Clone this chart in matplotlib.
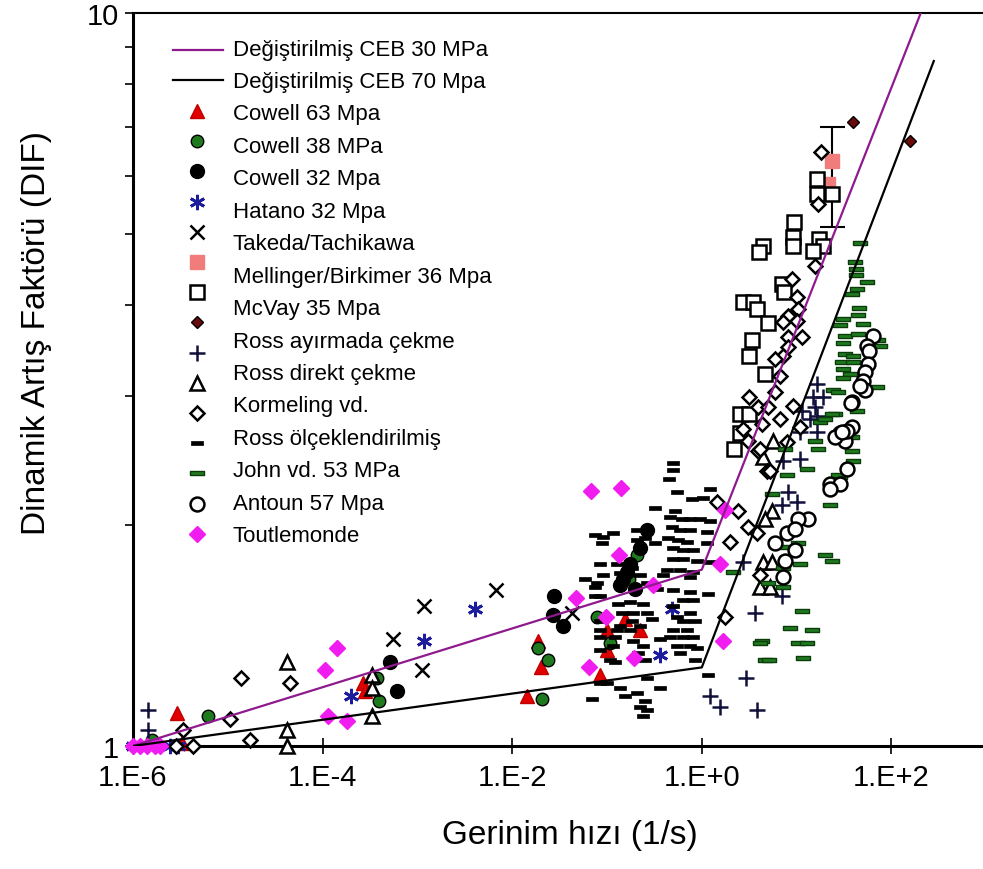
import numpy as np
import matplotlib
matplotlib.use('Agg')
import matplotlib.pyplot as plt
from matplotlib.ticker import FixedLocator, NullLocator, NullFormatter

plt.rcParams['font.family'] = ['Liberation Sans', 'DejaVu Sans']

# modified CEB curves (break points)
ceb30_rate = [1e-6, 1.0, 204.0]
ceb30_dif = [1.0, 1.74, 10.0]
ceb70_rate = [1e-6, 1.0, 280.0]
ceb70_dif = [1.0, 1.28, 8.6]

# test data: log10 of strain rate (1/s) and DIF
cowell63_lograte = [-5.54, -5.48, -3.57, -3.55, -1.84, -1.73, -1.70, -0.81, -1.00, -1.07, -0.65, -1.00]
cowell63_dif = [1.11, 1.01, 1.22, 1.19, 1.17, 1.39, 1.28, 1.49, 1.35, 1.25, 1.44, 1.44]

cowell38_lograte = [-5.21, -5.80, -3.43, -3.41, -1.73, -1.62, -1.69, -1.11, -0.68, -0.77, -0.97]
cowell38_dif = [1.10, 1.02, 1.24, 1.15, 1.36, 1.31, 1.16, 1.50, 1.82, 1.69, 1.38]

cowell32_lograte = [-3.29, -3.22, -1.56, -1.57, -1.46, -0.79, -0.83, -0.58, -0.76, -0.86, -0.65, -0.70]
cowell32_dif = [1.30, 1.19, 1.60, 1.51, 1.46, 1.73, 1.69, 1.97, 1.77, 1.66, 1.86, 1.64]

hatano_lograte = [-6.0, -5.61, -5.53, -3.70, -2.93, -2.39, -0.31, -0.44]
hatano_dif = [1.0, 1.0, 1.0, 1.17, 1.39, 1.54, 1.54, 1.33]

takeda_lograte = [-2.17, -2.93, -3.26, -2.95, -1.37]
takeda_dif = [1.63, 1.55, 1.40, 1.27, 1.52]

mellinger_lograte = [1.37, 1.33]
mellinger_dif = [6.28, 5.85]
mellinger_err_low = [5.1]
mellinger_err_high = [7.0]

mcvay_sq_lograte = [1.22, 1.22, 1.37, 0.97, 0.96, 0.96, 1.24, 1.28, 1.17, 0.65, 0.60, 0.85,
                    0.87, 0.43, 0.54, 0.58, 0.70, 0.53, 0.50, 0.67, 0.40, 0.50, 0.40, 0.34]
mcvay_sq_dif = [5.94, 5.66, 5.66, 5.19, 4.95, 4.81, 4.92, 4.81, 4.74, 4.81, 4.72, 4.27,
                4.16, 4.03, 4.04, 3.95, 3.78, 3.58, 3.40, 3.22, 2.84, 2.84, 2.67, 2.54]

mcvay_lograte = [1.59, 2.20]
mcvay_dif = [7.10, 6.69]

ross_split_lograte = [-5.84, -5.84, 0.43, 0.56, 0.47, 0.09, 0.19, 0.58, 0.86, 1.04, 0.91, 1.00,
                      0.85, 0.85, 1.06, 1.22, 1.22, 1.17, 1.28, 1.19, 1.14, 1.04, 1.22]
ross_split_dif = [1.12, 1.05, 1.78, 1.52, 1.24, 1.17, 1.13, 1.12, 2.45, 2.46, 2.22, 2.15,
                  2.13, 1.60, 2.86, 2.82, 3.12, 2.99, 2.99, 2.90, 2.79, 2.68, 2.68]

ross_direct_lograte = [-4.38, -4.38, -4.38, -3.48, -3.48, -3.48, 0.75, 0.65, 0.74, 0.67, 0.65, 0.74, 0.61, 0.72]
ross_direct_dif = [1.30, 1.05, 1.0, 1.25, 1.20, 1.10, 2.61, 2.48, 2.09, 2.04, 1.78, 1.78, 1.65, 1.65]

kormeling_lograte = [-4.86, -4.98, -5.47, -4.77, -4.34, -5.37, -5.55,
                     0.16, 0.38, 0.49, 0.30, 0.58, 0.24, 0.69, 0.59,
                     1.26, 1.23, 1.19, 0.95, 1.00, 1.01, 0.91, 1.00, 0.86, 1.06,
                     0.91, 0.91, 0.86, 0.77, 0.82, 0.77, 0.50, 0.59, 0.70, 0.96,
                     0.82, 0.64, 0.43, 0.49, 0.61, 0.90, 1.04, 0.72, 0.61]
kormeling_dif = [1.24, 1.09, 1.05, 1.02, 1.22, 1.0, 1.0,
                 2.15, 2.09, 1.99, 1.90, 1.95, 1.50, 2.37, 2.53,
                 6.46, 5.49, 4.52, 4.34, 4.10, 3.95, 3.86, 3.80, 3.79, 3.61,
                 3.61, 3.50, 3.40, 3.37, 3.20, 3.04, 2.99, 2.90, 2.90, 2.91,
                 2.79, 2.75, 2.71, 2.61, 2.54, 2.60, 2.72, 2.37, 1.71]

ross_scaled_lograte = [-1.13, -1.04, -0.94, -1.05, -0.68, -0.68, -0.60, -1.07, -1.04, -1.23,
                       -1.11, -1.13, -0.89, -0.86, -0.74, -0.65, -0.58, -1.13, -1.07, -0.88,
                       -0.76, -0.62, -0.84, -0.73, -0.58, -1.07, -0.86, -0.74, -1.07, -0.89,
                       -0.76, -0.65, -1.07, -0.92, -1.07, -0.94, -0.73, -0.62, -0.97, -0.92,
                       -0.60, -0.67, -1.07, -1.00, -0.86, -0.81, -0.68, -1.16, -0.65, -0.62,
                       -0.30, -0.30, -0.35, -0.26, -0.10, 0.01, 0.09, -0.28, -0.34, -0.21,
                       -0.12, -0.02, 0.09, -0.31, -0.23, -0.12, 0.05, -0.36, -0.25, -0.16,
                       0.05, -0.30, -0.20, -0.09, -0.30, -0.20, -0.05, 0.09, -0.37, -0.23,
                       -0.09, -0.41, -0.12, 0.07, -0.30, -0.12, -0.20, -0.09, -0.30, -0.12,
                       -0.26, -0.20, -0.07, -0.30, -0.16, -0.34, -0.20, -0.09, -0.26, -0.12,
                       -0.23, -0.05, -0.07, 0.07, -0.58, -0.60, -0.58,
                       -0.49, -0.47, -0.53, -0.44, -0.49, -0.44]
ross_scaled_dif = [1.94, 1.93, 1.95, 1.89, 1.97, 1.91, 1.92, 1.77, 1.71, 1.69,
                   1.67, 1.65, 1.77, 1.72, 1.75, 1.71, 1.67, 1.60, 1.60, 1.56,
                   1.57, 1.56, 1.52, 1.52, 1.52, 1.48, 1.46, 1.48, 1.44, 1.44,
                   1.44, 1.46, 1.41, 1.41, 1.35, 1.37, 1.39, 1.37, 1.31, 1.30,
                   1.31, 1.34, 1.22, 1.22, 1.20, 1.17, 1.18, 1.16, 1.13, 1.10,
                   2.43, 2.38, 2.31, 2.22, 2.17, 2.18, 2.24, 2.09, 2.05, 2.04,
                   2.04, 2.04, 2.03, 1.99, 1.97, 1.97, 1.96, 1.92, 1.91, 1.90,
                   1.89, 1.86, 1.85, 1.85, 1.80, 1.80, 1.79, 1.78, 1.74, 1.74,
                   1.73, 1.71, 1.70, 1.61, 1.63, 1.62, 1.58, 1.58, 1.55, 1.52,
                   1.50, 1.48, 1.48, 1.44, 1.44, 1.41, 1.41, 1.41, 1.37, 1.37,
                   1.34, 1.36, 1.31, 1.25, 1.24, 1.15, 1.12,
                   1.89, 1.64, 1.49, 1.40, 2.11, 1.20]

john_lograte = [0.33, 0.64, 0.67,
                1.41, 1.25, 1.19, 1.23, 0.88, 0.90, 1.11, 0.74, 1.35, 1.58,
                1.59, 1.46, 1.01, 0.90, 1.04, 0.86, 0.70, 0.86, 1.30, 1.37,
                1.06, 0.93, 1.16, 0.61, 1.01, 1.11, 1.07, 0.71,
                1.67, 1.62, 1.63, 1.63, 1.74, 1.64, 1.58, 1.66, 1.65, 1.49,
                1.46, 1.70, 1.51, 1.49, 1.65, 1.86, 1.88, 1.51, 1.59, 1.48,
                1.59, 1.49, 1.56, 1.49, 1.85, 1.38, 1.44, 1.64, 1.37, 1.30, 1.58, 1.44]
john_dif = [1.73, 1.39, 1.31,
            2.84, 2.77, 2.61, 2.54, 2.54, 2.34, 2.39, 2.21, 2.13, 2.53,
            2.45, 2.33, 1.89, 1.87, 1.77, 1.75, 1.67, 1.65, 1.82, 1.79,
            1.53, 1.45, 1.44, 1.38, 1.38, 1.38, 1.32, 1.31,
            4.86, 4.57, 4.48, 4.39, 4.30, 4.20, 4.14, 3.96, 3.87, 3.82,
            3.75, 3.76, 3.63, 3.55, 3.65, 3.58, 3.51, 3.43, 3.40, 3.34,
            3.34, 3.27, 3.22, 3.18, 3.09, 3.06, 3.04, 2.86, 2.84, 2.79, 2.64, 2.34]

antoun_lograte = [1.58, 1.46, 1.51, 1.58, 1.41, 1.53, 1.53, 1.35, 1.46, 1.12, 1.01, 0.90, 0.98, 0.77,
                  0.98, 0.86, 0.88, 1.81, 1.74, 1.76, 1.75, 1.72, 1.70, 1.72, 1.67, 1.57, 1.48, 1.35]
antoun_dif = [2.95, 2.67, 2.61, 2.72, 2.64, 2.69, 2.39, 2.28, 2.28, 2.04, 2.04, 1.95, 1.98, 1.89,
              1.85, 1.70, 1.79, 3.63, 3.51, 3.46, 3.32, 3.24, 3.15, 3.06, 3.10, 2.94, 2.68, 2.24]

toutlemonde_lograte = [-6.0, -5.93, -5.85, -5.77, -5.72, -3.85, -3.97, -3.94, -3.74, -1.17,
                       -0.85, -0.87, -1.33, -1.01, -0.72, -1.19, -0.51, 0.24, 0.19, 0.22]
toutlemonde_dif = [1.0, 1.0, 1.0, 1.0, 1.0, 1.36, 1.27, 1.10, 1.08, 2.23,
                   2.25, 1.82, 1.59, 1.50, 1.32, 1.28, 1.66, 2.10, 1.77, 1.39]

line_labels = ['Değiştirilmiş CEB 30 MPa', 'Değiştirilmiş CEB 70 Mpa']
series_labels = ['Cowell 63 Mpa', 'Cowell 38 MPa', 'Cowell 32 Mpa', 'Hatano 32 Mpa',
                 'Takeda/Tachikawa', 'Mellinger/Birkimer 36 Mpa', 'McVay 35 Mpa',
                 'Ross ayırmada çekme', 'Ross direkt çekme', 'Kormeling vd.',
                 'Ross ölçeklendirilmiş', 'John vd. 53 MPa', 'Antoun 57 Mpa', 'Toutlemonde']

# small filled bar used for the "scaled" / John markers
dash = [(-1, -0.42), (1, -0.42), (1, 0.42), (-1, 0.42), (-1, -0.42)]
dash_thin = [(-1, -0.34), (1, -0.34), (1, 0.34), (-1, 0.34), (-1, -0.34)]

styles = {
    'cowell63': dict(marker='^', ms=10, mfc='#e00000', mec='#c00000', mew=1),
    'cowell38': dict(marker='o', ms=9, mfc='#1f7a1f', mec='black', mew=1),
    'cowell32': dict(marker='o', ms=10, mfc='black', mec='black', mew=1),
    'hatano': dict(marker=(6, 2, 0), ms=11, mfc='none', mec='#1c1c9c', mew=2),
    'takeda': dict(marker='x', ms=10, mfc='none', mec='black', mew=1.8),
    'mellinger': dict(marker='s', ms=10, mfc='#f07c7c', mec='#f07c7c', mew=1),
    'mcvay_sq': dict(marker='s', ms=10, mfc='white', mec='black', mew=1.8),
    'mcvay': dict(marker='D', ms=6.5, mfc='#6b0a0a', mec='black', mew=1),
    'ross_split': dict(marker='+', ms=11, mfc='none', mec='#10103a', mew=1.8),
    'ross_direct': dict(marker='^', ms=10, mfc='white', mec='black', mew=1.8),
    'kormeling': dict(marker='D', ms=6.8, mfc='white', mec='black', mew=1.8),
    'ross_scaled': dict(marker=dash, ms=8, mfc='black', mec='black', mew=0.5),
    'john': dict(marker=dash_thin, ms=10.5, mfc='#1f7a1f', mec='#0b3d0b', mew=1),
    'antoun': dict(marker='o', ms=10, mfc='white', mec='black', mew=1.8),
    'toutlemonde': dict(marker='D', ms=8, mfc='#f01cf0', mec='#f01cf0', mew=1),
}

series = [
    ('cowell63', cowell63_lograte, cowell63_dif),
    ('cowell38', cowell38_lograte, cowell38_dif),
    ('cowell32', cowell32_lograte, cowell32_dif),
    ('hatano', hatano_lograte, hatano_dif),
    ('takeda', takeda_lograte, takeda_dif),
    ('mellinger', mellinger_lograte, mellinger_dif),
    ('mcvay_sq', mcvay_sq_lograte, mcvay_sq_dif),
    ('mcvay', mcvay_lograte, mcvay_dif),
    ('ross_split', ross_split_lograte, ross_split_dif),
    ('ross_direct', ross_direct_lograte, ross_direct_dif),
    ('kormeling', kormeling_lograte, kormeling_dif),
    ('ross_scaled', ross_scaled_lograte, ross_scaled_dif),
    ('john', john_lograte, john_dif),
    ('antoun', antoun_lograte, antoun_dif),
    ('toutlemonde', toutlemonde_lograte, toutlemonde_dif),
]

fig = plt.figure(figsize=(9.83, 8.70), dpi=100)
ax = fig.add_axes([0.1353, 0.1414, 0.8647, 0.8425])
ax.set_xscale('log')
ax.set_yscale('log')

for key, lr, dif in series:
    ax.plot(10.0 ** np.array(lr), dif, linestyle='none', clip_on=False, zorder=3, **styles[key])

# error bar on the Mellinger/Birkimer point
mx = 10.0 ** mellinger_lograte[0]
my = mellinger_dif[0]
ax.errorbar([mx], [my], yerr=[[my - mellinger_err_low[0]], [mellinger_err_high[0] - my]],
            fmt='none', ecolor='black', elinewidth=1.5, capsize=9, capthick=1.5, zorder=2)

ax.plot(ceb30_rate, ceb30_dif, color='#8e1a8e', lw=1.6, zorder=4)
ax.plot(ceb70_rate, ceb70_dif, color='black', lw=1.6, zorder=4)

ax.set_xlim(1e-6, 925)
ax.set_ylim(1, 10)

ax.xaxis.set_major_locator(FixedLocator([1e-6, 1e-4, 1e-2, 1.0, 1e2]))
ax.xaxis.set_minor_locator(NullLocator())
ax.set_xticklabels(['1.E-6', '1.E-4', '1.E-2', '1.E+0', '1.E+2'])
ax.yaxis.set_major_locator(FixedLocator([1, 10]))
ax.set_yticklabels(['1', '10'])
ax.yaxis.set_minor_locator(FixedLocator([2, 3, 4, 5, 6, 7, 8, 9]))
ax.yaxis.set_minor_formatter(NullFormatter())
ax.tick_params(axis='x', which='major', direction='inout', length=12, width=1.2, pad=6, labelsize=21)
ax.tick_params(axis='y', which='major', direction='out', length=6, width=1.2, pad=4, labelsize=21)
ax.tick_params(axis='y', which='minor', direction='out', length=6, width=1.2)

ax.spines['right'].set_visible(False)
ax.spines['top'].set_linewidth(1.5)
ax.spines['left'].set_linewidth(2.2)
ax.spines['bottom'].set_linewidth(2.2)

ax.set_xlabel('Gerinim hızı (1/s)', fontsize=24)
ax.set_ylabel('Dinamik Artış Faktörü (DIF)', fontsize=24)
ax.xaxis.set_label_coords(0.514, -0.10)
ax.yaxis.set_label_coords(-0.095, 0.565)

# hand-built legend: the marker column drifts against the text column as in the source
def ay(py):
    return (747 - py) / 733.0

for i, lab in enumerate(line_labels + series_labels):
    ax.text(0.1176, ay(50 + 32.45 * i), lab, fontsize=16, va='center', ha='left',
            transform=ax.transAxes)

ax.plot([0.047, 0.106], [ay(51)] * 2, color='#8e1a8e', lw=1.6, transform=ax.transAxes)
ax.plot([0.047, 0.106], [ay(81)] * 2, color='black', lw=1.6, transform=ax.transAxes)
for j, (key, _, _) in enumerate(series):
    ax.plot([0.0753], [ay(112 + 30.2 * j)], linestyle='none', transform=ax.transAxes,
            **styles[key])

fig.savefig('out.png', dpi=100)
